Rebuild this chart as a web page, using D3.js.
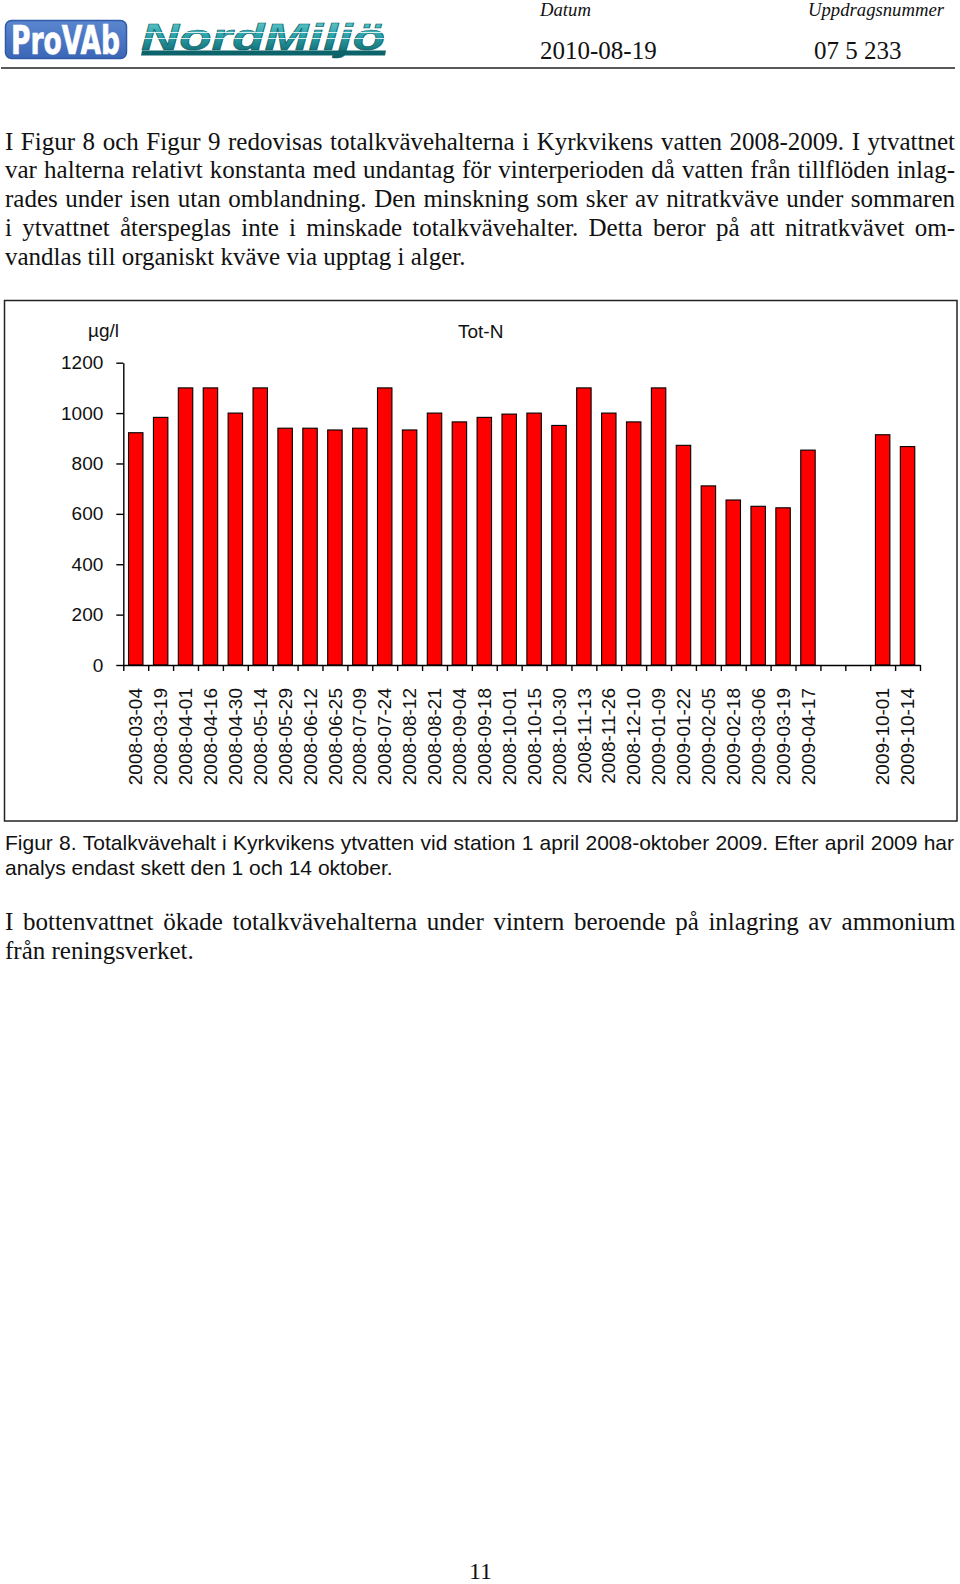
<!DOCTYPE html>
<html><head><meta charset="utf-8">
<script src="https://cdn.jsdelivr.net/npm/d3@7"></script>
<style>
body{margin:0;background:#fff}
svg{display:block}
.serif{font-family:"Liberation Serif","Times New Roman",serif;fill:#111}
.sans{font-family:"Liberation Sans",Arial,sans-serif;fill:#111}
</style></head><body>
<svg id="page" width="960" height="1584"></svg>
<script>
// ---------- data ----------
const categories = [
  "2008-03-04","2008-03-19","2008-04-01","2008-04-16","2008-04-30","2008-05-14",
  "2008-05-29","2008-06-12","2008-06-25","2008-07-09","2008-07-24","2008-08-12",
  "2008-08-21","2008-09-04","2008-09-18","2008-10-01","2008-10-15","2008-10-30",
  "2008-11-13","2008-11-26","2008-12-10","2009-01-09","2009-01-22","2009-02-05",
  "2009-02-18","2009-03-06","2009-03-19","2009-04-17","gap-1","gap-2",
  "2009-10-01","2009-10-14"
];
const totN = [
  922, 983, 1100, 1100, 1000, 1100,
  940, 940, 933, 940, 1100, 933,
  1000, 965, 983, 996, 1000, 951,
  1100, 1000, 965, 1100, 872, 711,
  655, 630, 624, 853, null, null,
  914, 867
];
const yTicks = [0, 200, 400, 600, 800, 1000, 1200];
const unitLabel = "µg/l";
const seriesName = "Tot-N";

const headerLabels = ["Datum", "Uppdragsnummer"];
const headerValues = ["2010-08-19", "07 5 233"];

const introLines = [
  "I Figur 8 och Figur 9 redovisas totalkvävehalterna i Kyrkvikens vatten 2008-2009. I ytvattnet",
  "var halterna relativt konstanta med undantag för vinterperioden då vatten från tillflöden inlag-",
  "rades under isen utan omblandning. Den minskning som sker av nitratkväve under sommaren",
  "i ytvattnet återspeglas inte i minskade totalkvävehalter. Detta beror på att nitratkvävet om-",
  "vandlas till organiskt kväve via upptag i alger."
];
const captionLines = [
  "Figur 8. Totalkvävehalt i Kyrkvikens ytvatten vid station 1 april 2008-oktober 2009. Efter april 2009 har",
  "analys endast skett den 1 och 14 oktober."
];
const outroLines = [
  "I bottenvattnet ökade totalkvävehalterna under vintern beroende på inlagring av ammonium",
  "från reningsverket."
];
const pageNumber = "11";

// ---------- page ----------
const svg = d3.select("#page");
svg.append("rect").attr("width", 960).attr("height", 1584).attr("fill", "#fff");

// logos
const defs = svg.append("defs");
const gBlue = defs.append("linearGradient").attr("id", "gBlue").attr("x1", 0).attr("y1", 0).attr("x2", 0).attr("y2", 1);
gBlue.append("stop").attr("offset", "0%").attr("stop-color", "#5b86cf");
gBlue.append("stop").attr("offset", "100%").attr("stop-color", "#3a66b6");
const gTeal = defs.append("linearGradient").attr("id", "gTeal").attr("x1", 0).attr("y1", 0).attr("x2", 0).attr("y2", 1);
gTeal.append("stop").attr("offset", "0%").attr("stop-color", "#6fd2d4");
gTeal.append("stop").attr("offset", "45%").attr("stop-color", "#2aa3aa");
gTeal.append("stop").attr("offset", "100%").attr("stop-color", "#0a5b62");

const logo = svg.append("g");
logo.append("rect").attr("x", 5.5).attr("y", 20.5).attr("width", 121).attr("height", 38)
  .attr("rx", 6).attr("fill", "url(#gBlue)").attr("stroke", "#2f5aa6").attr("stroke-width", 1.5);
logo.append("text").attr("x", 11).attr("y", 54).attr("textLength", 109).attr("lengthAdjust", "spacingAndGlyphs")
  .attr("font-family", "'DejaVu Sans Condensed','Liberation Sans',Arial,sans-serif").attr("font-weight", "bold")
  .attr("font-size", 39).attr("fill", "#fff").attr("stroke", "#fff").attr("stroke-width", 0.6).text("ProVAb");

logo.append("text").attr("x", 141).attr("y", 50).attr("textLength", 244).attr("lengthAdjust", "spacingAndGlyphs")
  .attr("font-family", "'Liberation Sans',Arial,sans-serif").attr("font-weight", "bold").attr("font-style", "italic")
  .attr("font-size", 37).attr("fill", "url(#gTeal)").attr("stroke", "#0b5d64").attr("stroke-width", 0.6).text("NordMiljö");
logo.append("path").attr("d", "M142,50.5 L386,50.5 L385,55.5 L141,55.5 Z").attr("fill", "#0d636a");
[32.5, 38.5].forEach(yy => logo.append("line").attr("x1", 140).attr("x2", 392).attr("y1", yy).attr("y2", yy)
  .attr("stroke", "#fff").attr("stroke-width", 1.2).attr("opacity", 0.8));

// header text
const hdr = svg.append("g");
hdr.selectAll("text.lab").data(headerLabels).join("text").attr("class", "serif lab")
  .attr("x", (d, i) => [540, 808][i]).attr("y", 15.5).attr("font-size", 18.7).attr("font-style", "italic").text(d => d);
hdr.selectAll("text.val").data(headerValues).join("text").attr("class", "serif val")
  .attr("x", (d, i) => [540, 814][i]).attr("y", 58.5).attr("font-size", 25).text(d => d);
svg.append("line").attr("x1", 1).attr("x2", 955).attr("y1", 68).attr("y2", 68).attr("stroke", "#222").attr("stroke-width", 1.5);

// justified text helper
function textLines(lines, x0, x1, y0, lh, cls, size, justifyLast) {
  const g = svg.append("g");
  lines.forEach((str, li) => {
    const y = y0 + li * lh;
    const t = g.append("text").attr("class", cls).attr("font-size", size).attr("y", y).attr("x", x0).text(str);
    const isLast = li === lines.length - 1;
    if (isLast && !justifyLast) return;
    const words = str.split(" ");
    t.text(null);
    const spans = words.map(w => t.append("tspan").text(w));
    const widths = spans.map(s => s.node().getComputedTextLength());
    const total = d3.sum(widths);
    const gap = (x1 - x0 - total) / (words.length - 1);
    let x = x0;
    spans.forEach((s, i) => { s.attr("x", x); x += widths[i] + gap; });
  });
  return g;
}

textLines(introLines, 5, 955, 149.5, 28.9, "serif", 25, false);
textLines(captionLines, 5, 954, 850, 24.5, "sans", 21, false);
textLines(outroLines, 5, 955.5, 930, 29.3, "serif", 25, false);

svg.append("text").attr("class", "serif").attr("x", 480.5).attr("y", 1578.5).attr("text-anchor", "middle")
  .attr("font-size", 24).text(pageNumber);

// ---------- chart ----------
svg.append("rect").attr("x", 4.5).attr("y", 300.5).attr("width", 952.5).attr("height", 520.5)
  .attr("fill", "none").attr("stroke", "#222").attr("stroke-width", 1.5);

const x0 = 123.3, x1 = 920, yBase = 665, yTop = 362.7;
const x = d3.scaleBand().domain(categories).range([x0, x1]).padding(0);
const xEdge = d3.scaleLinear().domain([0, categories.length]).range([x0, x1]);
const y = d3.scaleLinear().domain([0, 1200]).range([yBase, yTop]);
const chart = svg.append("g");

const barW = x.bandwidth() * 0.58;
chart.selectAll("rect.bar").data(categories.map((c, i) => ({ c, v: totN[i] })).filter(d => d.v != null))
  .join("rect").attr("class", "bar")
  .attr("x", d => x(d.c) + (x.bandwidth() - barW) / 2)
  .attr("y", d => y(d.v))
  .attr("width", barW)
  .attr("height", d => y(0) - y(d.v))
  .attr("fill", "#ff0000").attr("stroke", "#000").attr("stroke-width", 1.1);

const yAxis = chart.append("g").attr("transform", `translate(${x0},0)`)
  .call(d3.axisLeft(y).tickValues(yTicks).tickSize(7).tickSizeOuter(0).tickPadding(13).tickFormat(d3.format("d")));
const xAxis = chart.append("g").attr("transform", `translate(0,${yBase})`)
  .call(d3.axisBottom(xEdge).tickValues(d3.range(categories.length + 1)).tickSize(6).tickSizeOuter(0).tickFormat(""));
[yAxis, xAxis].forEach(a => {
  a.select(".domain").attr("stroke", "#000").attr("stroke-width", 1.4);
  a.selectAll(".tick line").attr("stroke", "#000").attr("stroke-width", 1.4);
});
yAxis.selectAll(".tick text").attr("font-family", "'Liberation Sans',Arial,sans-serif").attr("font-size", 19).attr("fill", "#111");

chart.selectAll("text.xlab").data(categories.filter(c => !c.startsWith("gap")))
  .join("text").attr("class", "sans xlab").attr("font-size", 19)
  .attr("text-anchor", "end").attr("dy", "0.35em")
  .attr("transform", d => `translate(${x(d) + x.bandwidth() / 2},${yBase + 23}) rotate(-90)`)
  .text(d => d);

chart.append("text").attr("class", "sans").attr("font-size", 19).attr("x", 88).attr("y", 337).text(unitLabel);
chart.append("text").attr("class", "sans").attr("font-size", 19).attr("x", 458).attr("y", 338).text(seriesName);
</script>
</body></html>
